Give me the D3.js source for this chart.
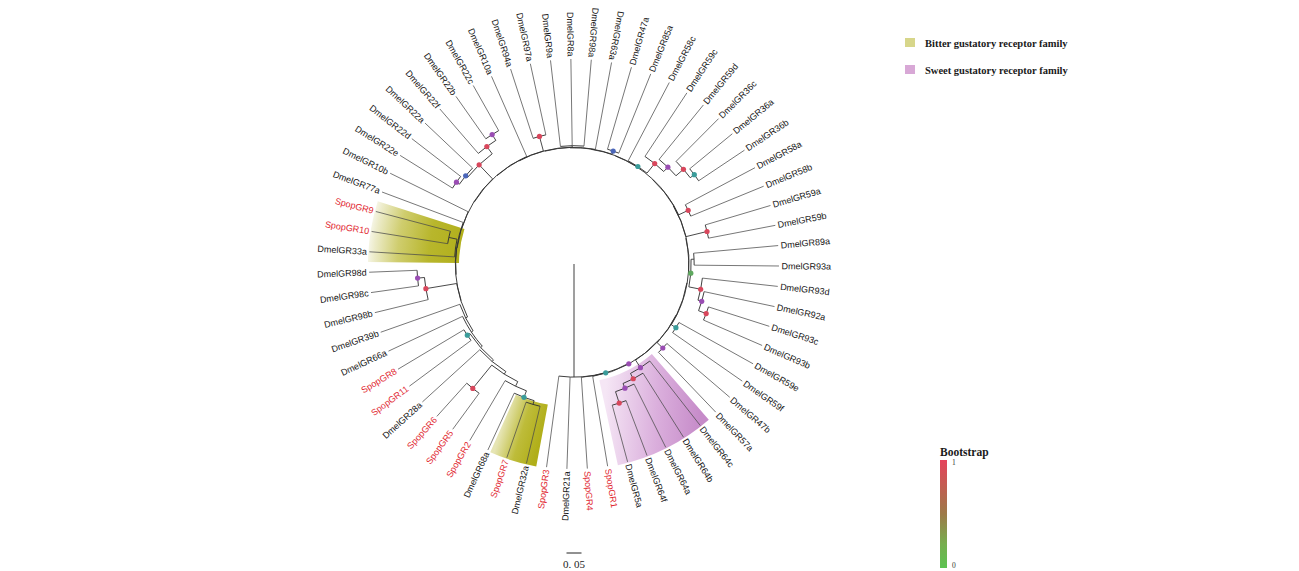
<!DOCTYPE html>
<html>
<head>
<meta charset="utf-8">
<script src="https://cdn.jsdelivr.net/npm/d3@7"></script>
<style>
  body { margin: 0; background: #fff; }
  svg { display: block; }
</style>
</head>
<body>
<svg id="chart" width="1299" height="571"></svg>
<script>
// ---- Data ---------------------------------------------------------------
// Gustatory receptor tree in Newick form; internal labels are bootstrap support.
const treeNewick =
  "(SpopGR3,DmelGR21a,(SpopGR4,(SpopGR1," +
  "(((((DmelGR5a,DmelGR64f)0.98:0.04,DmelGR64a)0.85:0.017,DmelGR64b)0.98:0.02,DmelGR64c)0.85:0.03," +
  "((DmelGR57a,DmelGR47b)0.85:0.026," +
  "((DmelGR59f,DmelGR59e)0.55:0.018," +
  "(((((DmelGR93b,DmelGR93c)0.98:0.027,DmelGR92a)0.85:0.013,DmelGR93d)0.98:0.04,(DmelGR93a,DmelGR89a):0.01)0.4:0.007," +
  "((DmelGR59b,DmelGR59a)0.98:0.072," +
  "((DmelGR58b,DmelGR58a)0.98:0.035," +
  "((((((DmelGR36b,DmelGR36a)0.55:0.017,DmelGR36c)0.98:0.033,DmelGR59d)0.85:0.02,DmelGR59c)0.98:0.041,DmelGR58c)0.55:0.002," +
  "((DmelGR85a,DmelGR47a)0.7:0.011," +
  "(DmelGR63a," +
  "((DmelGR98a,DmelGR8a,DmelGR9a):0.005," +
  "((DmelGR97a,DmelGR94a)0.98:0.05," +
  "(DmelGR10a," +
  "((((DmelGR22c,DmelGR22b)0.85:0.023,DmelGR22f)0.98:0.03,(DmelGR22a,(DmelGR22d,DmelGR22e)0.85:0.012)0.7:0.008)0.98:0.065," +
  "(DmelGR10b," +
  "(DmelGR77a," +
  "(((SpopGR9,SpopGR10):0.028,DmelGR33a):0.003," +
  "(((DmelGR98d,DmelGR98c)0.85:0.023,DmelGR98b)0.98:0.104," +
  "(DmelGR39b,(DmelGR66a,((SpopGR8,SpopGR11)0.55:0.01,(DmelGR28a,((SpopGR6,SpopGR5)0.98:0.1," +
  "(SpopGR2,(DmelGR68a,(SpopGR7,DmelGR32a):0.013)0.55:0.023):0.017):0.01):0.007):0.007):0.007):0.007" +
  "):0.001):0.001):0.001):0.001):0.001):0.001):0.001):0.001" +
  "):0.001):0.001):0.001):0.001):0.001):0.001):0.001):0.001" +
  "):0.001)0.85:0.0015)0.55:0.001):0.377;";

const speciesPrefixes = ["Dmel", "Spop"];
const speciesColors   = ["#151515", "#e1262f"];

const bitterClades = [["SpopGR9", "DmelGR33a"], ["SpopGR7", "DmelGR32a"]];
const sweetClades  = [["DmelGR5a", "DmelGR64c"]];

const legendLabels = ["Bitter gustatory receptor family", "Sweet gustatory receptor family"];
const legendColors = ["#d7d68a", "#d8a8d6"];

const supportLevels = [0.4, 0.55, 0.7, 0.85, 0.98];
const supportColors = ["#5fa85f", "#3a9c9a", "#4b66b9", "#9a4db3", "#d8475c"];

const bootstrapTicks = [0, 1];
const bootstrapStops = [
  { offset: 0,    color: "#e5435b" },
  { offset: 0.5,  color: "#9d7a48" },
  { offset: 0.78, color: "#76ae4e" },
  { offset: 1,    color: "#5cc352" }
];
const scaleBarLength = 0.05;

// ---- Layout constants --------------------------------------------------
const cx = 574, cy = 264;
const tipRadius = 205;
const firstLeafAngle = 187.7;   // degrees, clockwise from 12 o'clock
const rootAngle = 180;          // the root stem points straight down
const flipBelow = 13.5;         // labels past 180° (and up to this angle) read inward

// ---- Newick parsing ----------------------------------------------------
function parseNewick(s) {
  let i = 0;
  function node() {
    const n = { children: [] };
    if (s[i] === "(") {
      i++;
      n.children.push(node());
      while (s[i] === ",") { i++; n.children.push(node()); }
      i++; // ')'
    }
    let name = "";
    while (i < s.length && !",():;".includes(s[i])) name += s[i++];
    n.name = name.trim();
    n.length = 0;
    if (s[i] === ":") {
      i++;
      let len = "";
      while (i < s.length && !",();".includes(s[i])) len += s[i++];
      n.length = +len;
    }
    if (!n.children.length) delete n.children;
    return n;
  }
  return node();
}

const root = d3.hierarchy(parseNewick(treeNewick), d => d.children);
root.eachBefore(n => { n.h = (n.parent ? n.parent.h : 0) + n.data.length; });

const leaves = root.leaves();
const angleOf = d3.scaleLinear().domain([0, leaves.length]).range([firstLeafAngle, firstLeafAngle - 360]);
const step = 360 / leaves.length;
leaves.forEach((l, i) => { l.a = angleOf(i); });
root.eachAfter(n => {
  if (n.children) n.a = (n.children[0].a + n.children[n.children.length - 1].a) / 2;
});
root.a = rootAngle;

const radius = d3.scaleLinear().domain([0, 1]).range([0, 300]);
const supportColor = d3.scaleLinear().domain(supportLevels).range(supportColors);
const rad = a => a * Math.PI / 180;
const polarRel = (a, r) => [r * Math.sin(rad(a)), -r * Math.cos(rad(a))];
const polar = (a, r) => { const [x, y] = polarRel(a, r); return [cx + x, cy + y]; };
const byName = new Map(leaves.map(l => [l.data.name, l]));

function arcPath(a1, a2, R) {
  const [x1, y1] = polar(a1, R), [x2, y2] = polar(a2, R);
  const sweep = a2 > a1 ? 1 : 0, large = Math.abs(a2 - a1) > 180 ? 1 : 0;
  return `M${x1},${y1}A${R},${R} 0 ${large} ${sweep} ${x2},${y2}`;
}

const svg = d3.select("#chart");
const defs = svg.append("defs");

// ---- Clade highlights (drawn in centre-relative coordinates) -------------
function cladeSpan(pair) {
  const a = pair.map(n => byName.get(n).a);
  return [d3.min(a) - step / 2, d3.max(a) + step / 2];
}
const sector = d3.arc();
const hl = svg.append("g").attr("transform", `translate(${cx},${cy})`);

function addStops(grad, stops) {
  stops.forEach(([o, c]) => grad.append("stop").attr("offset", o).attr("stop-color", c));
}
function linearBetween(id, p0, p1, stops) {
  const g = defs.append("linearGradient").attr("id", id).attr("gradientUnits", "userSpaceOnUse")
    .attr("x1", p0[0]).attr("y1", p0[1]).attr("x2", p1[0]).attr("y2", p1[1]);
  addStops(g, stops);
}

// left bitter clade: strongest next to the backbone, fading outward
{
  const g = defs.append("radialGradient").attr("id", "bitterRadial")
    .attr("gradientUnits", "userSpaceOnUse").attr("cx", 0).attr("cy", 0).attr("r", 208);
  addStops(g, [[0.55, "#b2b01c"], [0.7, "#b8b62c"], [0.85, "#cfcd6e"], [0.96, "#ecebc8"], [1, "#f8f8ee"]]);
  const [a0, a1] = cladeSpan(bitterClades[0]);
  hl.append("path")
    .attr("d", sector({ innerRadius: 115, outerRadius: 206, startAngle: rad(a0), endAngle: rad(a1) }))
    .attr("fill", "url(#bitterRadial)");
}
// bottom bitter clade: fading toward its far side
{
  const [a0, a1] = cladeSpan(bitterClades[1]);
  linearBetween("bitterLinear", polarRel(a0, 175), polarRel(a1 + 2, 175),
    [[0, "#b0ae18"], [0.5, "#bebc3a"], [1, "#e6e5b4"]]);
  hl.append("path")
    .attr("d", sector({ innerRadius: 143, outerRadius: 206, startAngle: rad(a0), endAngle: rad(a1 + 2) }))
    .attr("fill", "url(#bitterLinear)");
}
// sweet clade
{
  const [a0, a1] = cladeSpan(sweetClades[0]);
  linearBetween("sweetLinear", polarRel(a0, 195), polarRel(a1, 145),
    [[0, "#c68bc9"], [0.45, "#daaedc"], [1, "#f5e6f5"]]);
  hl.append("path")
    .attr("d", sector({ innerRadius: 119, outerRadius: 206, startAngle: rad(a0), endAngle: rad(a1) }))
    .attr("fill", "url(#sweetLinear)");
}

// ---- Branches ----------------------------------------------------------
const branches = svg.append("g").attr("fill", "none").attr("stroke", "#353535").attr("stroke-width", 0.95);

// root stem from the centre
{
  const [x2, y2] = polar(root.a, radius(root.h));
  branches.append("line").attr("x1", cx).attr("y1", cy).attr("x2", x2).attr("y2", y2);
}

root.descendants().forEach(n => {
  if (n.parent) {
    const r0 = radius(n.parent.h);
    const r1 = n.children ? radius(n.h) : tipRadius;
    const [x1, y1] = polar(n.a, r0), [x2, y2] = polar(n.a, r1);
    branches.append("line").attr("x1", x1).attr("y1", y1).attr("x2", x2).attr("y2", y2)
      .attr("stroke", n.children ? "#353535" : "#4a4a4a")
      .attr("stroke-width", n.children ? 0.9 : 0.75);
  }
  if (n.children) {
    branches.append("path")
      .attr("d", arcPath(n.children[0].a, n.children[n.children.length - 1].a, radius(n.h)));
  }
});

// ---- Support dots ------------------------------------------------------
svg.append("g").selectAll("circle")
  .data(root.descendants().filter(n => n.children && n.data.name !== ""))
  .join("circle")
  .attr("cx", n => polar(n.a, radius(n.h))[0])
  .attr("cy", n => polar(n.a, radius(n.h))[1])
  .attr("r", 2.6)
  .attr("fill", n => supportColor(+n.data.name));

// ---- Leaf labels -------------------------------------------------------
const norm = a => ((a % 360) + 360) % 360;
const flipped = a => { const m = norm(a); return m > 180 || m < flipBelow; };
svg.append("g")
  .attr("font-family", "'Liberation Sans', Arial, sans-serif")
  .attr("font-size", 9)
  .selectAll("text")
  .data(leaves)
  .join("text")
  .attr("transform", d => `translate(${cx},${cy}) rotate(${d.a - 90}) translate(${tipRadius + 2.5},0)` +
                          (flipped(d.a) ? " rotate(180)" : ""))
  .attr("text-anchor", d => flipped(d.a) ? "end" : "start")
  .attr("dy", "0.35em")
  .attr("fill", d => speciesColors[speciesPrefixes.findIndex(p => d.data.name.startsWith(p))])
  .text(d => d.data.name);

// ---- Family legend -----------------------------------------------------
const legend = svg.append("g").attr("transform", "translate(905,38)");
legendLabels.forEach((label, i) => {
  const row = legend.append("g").attr("transform", `translate(0,${i * 27})`);
  row.append("rect").attr("width", 10).attr("height", 9).attr("fill", legendColors[i]);
  row.append("text").attr("x", 20).attr("y", 8.5)
    .attr("font-family", "'Liberation Serif', 'Times New Roman', serif")
    .attr("font-weight", "bold").attr("font-size", 10.5).attr("fill", "#1a1a1a")
    .text(label);
});

// ---- Bootstrap colour bar ----------------------------------------------
{
  const g = defs.append("linearGradient").attr("id", "bootGrad")
    .attr("x1", 0).attr("y1", 0).attr("x2", 0).attr("y2", 1);
  bootstrapStops.forEach(s => g.append("stop").attr("offset", s.offset).attr("stop-color", s.color));
  const barTop = 460, barBottom = 568;
  const y = d3.scaleLinear().domain([0, 1]).range([barBottom, barTop]);
  const bar = svg.append("g");
  bar.append("rect").attr("x", 940).attr("y", barTop).attr("width", 7).attr("height", barBottom - barTop)
    .attr("fill", "url(#bootGrad)");
  bar.append("text").attr("x", 940).attr("y", 456)
    .attr("font-family", "'Liberation Serif', 'Times New Roman', serif")
    .attr("font-weight", "bold").attr("font-size", 11.5).attr("fill", "#1a1a1a")
    .text("Bootstrap");
  bar.selectAll(".tick").data(bootstrapTicks).join("text")
    .attr("x", 952).attr("y", d => d === 1 ? y(d) + 5 : y(d) - 0.5)
    .attr("font-family", "'Liberation Serif', 'Times New Roman', serif")
    .attr("font-size", 7.5).attr("fill", "#333")
    .text(d => d);
}

// ---- Scale bar ---------------------------------------------------------
{
  const len = radius(scaleBarLength);
  svg.append("line").attr("x1", cx - len / 2).attr("x2", cx + len / 2)
    .attr("y1", 553).attr("y2", 553).attr("stroke", "#222").attr("stroke-width", 1);
  svg.append("text").attr("x", cx).attr("y", 568).attr("text-anchor", "middle")
    .attr("font-family", "'Liberation Serif', 'Times New Roman', serif")
    .attr("font-size", 11).attr("fill", "#222")
    .text(d3.format(".2f")(scaleBarLength).replace(".", ". "));
}
</script>
</body>
</html>
